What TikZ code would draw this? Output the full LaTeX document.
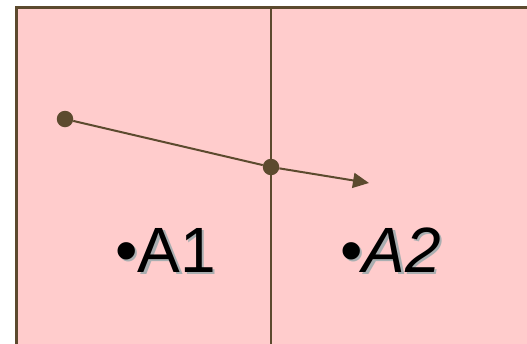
\documentclass[tikz,border=0pt]{standalone}
\usepackage{fontspec}
\setmainfont{Liberation Sans}
\usetikzlibrary{arrows.meta,positioning}

\definecolor{regfill}{HTML}{FFCCCC}
\definecolor{regline}{HTML}{5C4A2E}
\definecolor{shade}{HTML}{A9AEB0}

% text with a soft drop shadow
\newcommand{\shadowtext}[1]{\makebox[0pt][l]{\kern2.5pt\raisebox{-2.5pt}{\textcolor{shade}{#1}}}#1}

\begin{document}
\begin{tikzpicture}[x=1pt, y=-1pt,
    region/.style={fill=regfill, draw=regline, line width=2.3pt},
    divider/.style={draw=regline, line width=2.3pt},
    dot/.style={circle, fill=regline, inner sep=0pt, minimum size=16.5pt},
    track/.style={draw=regline, line width=2pt},
    lbl/.style={font=\fontsize{64}{64}\selectfont, inner sep=0pt, anchor=base west},
]

% Page frame
\useasboundingbox (0,0) rectangle (527,343);
\clip (0,0) rectangle (527,343);

% Regions A1 and A2
\draw[region] (16.5,7.5) rectangle (560,370);
\draw[divider] (271,7.5) -- (271,370);

% Labels
\node[lbl] (a1) at (115,272) {\shadowtext{•A1}};
\node[lbl] (a2) at (340,272) {\shadowtext{•\textit{A2}}};

% Moving point crossing the border
\node[dot] (start) at (65,119) {};
\node[dot] (cross) at (271,167) {};
\coordinate (goal) at (369,183);

\draw[track] (start) -- (cross);
\draw[track, -{Triangle[length=16pt, width=15pt]}] (cross) -- (goal);

\end{tikzpicture}
\end{document}
